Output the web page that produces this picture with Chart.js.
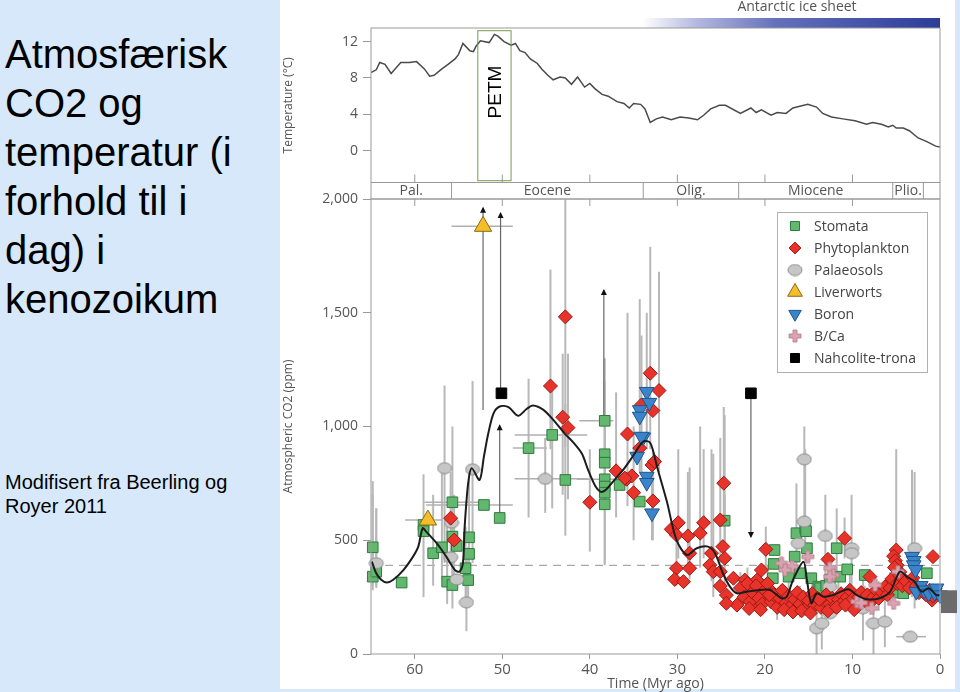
<!DOCTYPE html>
<html>
<head>
<meta charset="utf-8">
<script src="https://cdn.jsdelivr.net/npm/chart.js@4.4.0/dist/chart.umd.min.js"></script>
<style>
  html, body { margin: 0; padding: 0; }
  body { width: 960px; height: 692px; background: #d6e8fa; position: relative; overflow: hidden; font-family: "Liberation Sans", Arial, sans-serif; }
  #panel { position: absolute; left: 280px; top: 0; width: 675px; height: 689px; background: #fff; }
  #title { position: absolute; left: 5px; top: 30px; font-size: 40px; line-height: 49px; color: #000; }
  #source { position: absolute; left: 5px; top: 470px; font-size: 20px; line-height: 24px; color: #000; }
  #temp { position: absolute; left: 280px; top: 0; }
  #co2 { position: absolute; left: 280px; top: 185px; }
</style>
</head>
<body>
<div id="panel"></div>
<div id="title">Atmosfærisk<br>CO2 og<br>temperatur (i<br>forhold til i<br>dag) i<br>kenozoikum</div>
<div id="source">Modifisert fra Beerling og<br>Royer 2011</div>
<canvas id="temp" width="680" height="200"></canvas>
<canvas id="co2" width="680" height="507"></canvas>
<script>
// ---- data (ages in Myr ago) ----
const ageTicks = [60, 50, 40, 30, 20, 10, 0];
const tempTicks = [0, 4, 8, 12];
const co2Ticks = [0, 500, 1000, 1500, 2000];

const epochNames = ['Pal.', 'Eocene', 'Olig.', 'Miocene', 'Plio.', ''];
const epochBounds = [65, 55.8, 33.9, 23.0, 5.4, 1.9, 0];
const iceSheetStart = 34;
const petm = [52.8, 49.0];
const presentCO2 = 390;
const glacialRange = [180, 280];

const tempAge = [65.0, 64.4, 64.0, 63.4, 62.7, 61.6, 60.6, 59.8, 58.9, 58.3, 57.8, 56.9, 56.2, 55.4, 55.0, 54.5, 53.7, 53.3, 53.0, 52.5, 51.5, 50.9, 50.5, 49.8, 49.0, 48.5, 48.0, 47.4, 46.8, 46.0, 45.5, 44.8, 44.2, 43.4, 42.8, 42.1, 41.4, 40.6, 40.0, 39.4, 38.6, 37.9, 36.9, 36.1, 35.5, 35.0, 34.2, 33.7, 33.1, 32.4, 31.7, 30.7, 29.7, 28.7, 27.7, 27.0, 26.2, 25.2, 24.5, 22.8, 21.6, 21.0, 20.4, 19.3, 18.6, 17.6, 16.8, 15.1, 14.1, 13.4, 12.4, 11.1, 9.7, 8.4, 7.7, 6.7, 5.9, 5.4, 5.0, 4.2, 3.5, 2.5, 1.5, 0.5, 0.0];
const tempValue = [8.6, 8.9, 9.7, 9.5, 8.5, 9.7, 9.7, 9.8, 9.0, 8.2, 8.3, 9.0, 9.5, 10.1, 10.6, 11.8, 11.0, 10.9, 11.5, 12.1, 11.9, 12.8, 12.6, 12.0, 11.6, 11.8, 11.0, 10.8, 10.1, 9.6, 9.0, 8.3, 7.8, 8.1, 8.0, 7.3, 8.1, 7.0, 7.4, 6.8, 6.2, 6.0, 5.4, 5.2, 4.7, 5.2, 5.1, 4.6, 3.1, 3.5, 3.7, 3.4, 3.7, 3.6, 3.4, 3.9, 4.6, 5.0, 5.0, 4.1, 4.7, 4.2, 4.5, 3.9, 4.2, 4.1, 4.7, 5.1, 4.8, 4.1, 3.7, 3.5, 3.3, 2.9, 3.1, 2.9, 2.6, 2.8, 2.5, 2.5, 2.2, 1.4, 1.0, 0.5, 0.4];

const trendAge = [64.9, 64.4, 63.8, 63.2, 62.5, 61.3, 60.2, 59.6, 59.1, 58.7, 57.5, 56.4, 55.4, 54.9, 54.5, 54.3, 53.9, 53.5, 52.6, 52.1, 51.6, 51.0, 50.3, 49.3, 48.2, 47.2, 46.5, 45.3, 44.2, 42.9, 41.9, 40.9, 40.2, 39.4, 38.8, 38.3, 37.3, 36.2, 35.1, 33.9, 33.1, 32.3, 31.2, 30.1, 28.9, 27.8, 26.5, 25.7, 24.8, 24.0, 23.2, 22.1, 20.6, 19.4, 18.1, 17.5, 16.8, 15.6, 15.2, 14.7, 14.1, 13.3, 12.2, 10.5, 9.5, 8.4, 6.9, 5.7, 4.6, 3.8, 2.9, 2.1, 1.3, 0.4, 0.0];
const trendCO2 = [406, 355, 325, 314, 325, 369, 428, 472, 553, 538, 487, 428, 369, 362, 399, 560, 751, 817, 765, 868, 970, 1058, 1088, 1085, 1047, 1078, 1092, 1073, 1030, 970, 930, 880, 809, 740, 714, 718, 760, 809, 868, 934, 928, 820, 670, 501, 435, 465, 472, 443, 355, 296, 267, 274, 281, 281, 245, 252, 325, 406, 325, 223, 267, 252, 259, 285, 259, 241, 245, 274, 362, 340, 318, 274, 289, 259, 259];

// rows: [age, CO2, errLow, errHigh, ageOld, ageYoung]
const stomata = [
  [64.8, 469, 300, 760], [64.8, 340, 280, 700], [64.4, 362, 300, 640], [61.5, 314],
  [59.0, 567, 250, 790], [59.0, 540], [57.9, 443, 300, 700], [56.9, 469, 330, 820],
  [55.7, 667, 350, 1000, 58.9, 52.6], [55.7, 516], [55.2, 475], [56.3, 318, 220, 600],
  [55.7, 303, 200, 560], [53.8, 513, 350, 800], [53.8, 440], [54.2, 377, 250, 560],
  [53.9, 325, 230, 470], [52.1, 655, null, null, 58.7, 48.8], [50.3, 598],
  [47.0, 905, 600, 1210, 48.8, 44.9], [44.3, 963, 640, 1200, 48.6, 40.3], [42.8, 765, 520, 1100],
  [38.3, 1025, 700, 1300, 41.2, 37.3], [38.3, 878, 400, 1200], [38.3, 841], [38.3, 768, null, null, 41.5, 35.5],
  [38.3, 736], [38.3, 709], [38.3, 658, 390, 1000], [36.6, 743], [34.3, 670],
  [24.6, 586, 450, 1050], [18.9, 457], [19.0, 396], [19.1, 333], [17.3, 340], [16.4, 531, 380, 750],
  [15.4, 553, 400, 900], [15.2, 465], [16.6, 428], [16.0, 355], [15.3, 540], [14.7, 333],
  [13.9, 296], [13.7, 289], [13.0, 300], [12.6, 325], [11.8, 465, 330, 640], [11.4, 340],
  [10.6, 372], [8.6, 347], [5.3, 270], [4.2, 267], [1.5, 355]
];
const phytoplankton = [
  [55.9, 597, 420, 800], [55.5, 501, 350, 700], [44.5, 1178, 900, 1690], [42.8, 1482, 910, 2100],
  [43.1, 1041, 700, 1320], [42.5, 995, 680, 1320], [40.0, 667, 450, 900], [37.0, 805, 600, 1150],
  [35.7, 967, 650, 1500], [35.8, 768], [35.2, 783], [35.0, 709, 500, 1000], [33.1, 1234, 900, 1790],
  [32.1, 1158, 800, 1680], [32.8, 1070], [34.1, 1095, 800, 1400], [34.3, 905], [32.9, 831],
  [32.6, 846], [32.8, 673, 500, 900], [36.0, 773],
  [29.9, 577, 420, 900], [30.7, 548], [30.1, 523], [28.8, 519, 400, 800], [27.4, 531, 380, 1000],
  [27.0, 577, 420, 900], [25.1, 589, 400, 950], [28.6, 443, 330, 820], [26.1, 443, 320, 900], [24.8, 472], [24.6, 421, 300, 700],
  [30.1, 377, 300, 520], [28.6, 377], [30.3, 328], [29.3, 318], [26.3, 391], [25.9, 362, 250, 880],
  [25.1, 362], [25.1, 299], [23.6, 333], [24.4, 259], [23.2, 215], [24.4, 223], [22.3, 325],
  [22.1, 252], [20.9, 325], [20.4, 369], [20.6, 281], [20.8, 208], [19.8, 245], [19.4, 281],
  [19.9, 460, 380, 560], [18.7, 237], [17.9, 223], [24.7, 751, 580, 1086], [10.9, 509, 420, 600],
  [12.8, 416], [8.0, 340], [5.0, 457, 300, 900], [5.3, 430], [5.1, 410], [4.9, 390], [4.6, 360],
  [0.8, 428], [0.9, 237],
  [22.8, 290, 230, 360], [22.4, 250], [22.0, 310, 240, 380], [21.7, 230], [21.4, 270, 200, 340],
  [21.0, 300], [20.7, 245], [20.3, 220, 170, 290], [20.0, 280], [19.7, 310, 250, 390], [19.3, 230],
  [19.0, 260], [18.6, 205, 150, 270], [18.3, 245], [18.0, 280], [17.6, 225], [17.3, 255, 190, 330],
  [17.0, 210], [16.6, 240], [16.3, 270], [16.0, 220, 160, 300], [15.6, 250], [15.3, 200], [15.0, 235],
  [14.6, 265, 200, 340], [14.3, 215], [14.0, 245], [13.6, 205], [13.3, 235, 180, 300], [13.0, 260],
  [12.6, 220], [12.3, 245], [12.0, 210], [11.6, 240, 180, 320], [11.3, 265], [11.0, 230], [10.6, 250],
  [10.3, 280, 220, 350], [10.0, 240], [9.6, 215], [9.3, 250], [9.0, 270], [8.6, 235, 180, 300],
  [8.3, 260], [8.0, 225], [7.6, 250], [7.3, 280], [7.0, 245, 190, 320], [6.6, 270], [6.3, 295],
  [6.0, 260], [5.7, 290, 230, 360], [5.5, 330], [5.2, 380], [4.9, 310], [4.6, 345], [4.3, 300],
  [3.9, 320], [3.5, 290], [3.1, 335], [2.7, 300], [2.4, 270], [2.0, 290], [1.6, 260], [1.2, 280],
  [0.8, 255], [0.4, 270],
  [21.8, 200], [20.5, 195], [19.5, 260], [17.8, 195], [16.8, 185], [15.8, 190], [14.8, 180],
  [13.8, 240], [12.8, 190], [11.8, 205], [10.8, 215], [9.8, 195]
];
const palaeosols = [
  [64.4, 399, 290, 640], [56.6, 817, 400, 1180], [55.8, 577], [55.9, 425], [55.2, 328],
  [54.1, 227, 100, 420], [53.4, 812, 400, 1200], [45.1, 770, 620, 950, 48.6, 40.2],
  [15.5, 856, 600, 1000], [15.5, 582], [16.2, 487], [13.1, 519, 300, 700], [10.1, 465, 280, 700],
  [10.1, 443], [12.6, 296], [14.1, 113, 0, 250], [13.5, 135, 20, 300], [12.6, 179], [8.8, 201, 60, 350],
  [7.6, 135, 0, 300], [6.3, 142, 30, 320], [3.4, 76, null, null, 5.0, 1.6], [2.9, 465, 200, 800]
];
const liverworts = [[58.5, 589, null, null, 61.1, 56.8], [52.2, 1880, null, null, 55.8, 48.8]];
const boron = [
  [33.5, 1153, 900, 1500], [33.2, 1105], [34.3, 1073, 800, 1560], [34.3, 1044], [33.9, 953],
  [34.6, 868], [33.5, 780], [33.5, 753], [32.9, 619, 500, 800], [34.1, 956],
  [3.2, 428, 250, 810], [3.0, 410], [3.0, 391], [2.8, 370], [2.7, 274], [2.2, 300], [1.8, 280],
  [1.3, 267], [0.6, 270], [0.4, 289], [0.0, 259]
];
const bca = [
  [18.1, 399], [16.9, 384], [17.7, 369], [15.1, 428], [12.6, 377], [12.2, 347], [12.6, 340],
  [9.5, 230], [9.0, 225], [7.8, 201], [7.4, 303], [5.3, 223], [4.8, 362]
];
const nahcolite = [[50.1, 1146], [21.6, 1146]];
// limits drawn as arrows: [age, from CO2, to CO2]
const limits = [[52.2, 1073, 1961], [50.2, 1146, 1939], [50.3, 598, 1005], [38.4, 1025, 1600], [21.6, 1146, 514]];

// ---- styles ----
const tickFont = { family: 'Open Sans', size: 14 };
const textGray = '#555';
const frameGray = '#9a9a9a';

function ellipseMarker(w, h, fill, stroke) {
  const c = document.createElement('canvas');
  c.width = w + 2; c.height = h + 2;
  const g = c.getContext('2d');
  g.beginPath();
  g.ellipse(c.width / 2, c.height / 2, w / 2, h / 2, 0, 0, Math.PI * 2);
  g.fillStyle = fill; g.fill();
  g.strokeStyle = stroke; g.lineWidth = 1; g.stroke();
  return c;
}
function plusMarker(s, t, fill, stroke) {
  const c = document.createElement('canvas');
  c.width = s + 2; c.height = s + 2;
  const g = c.getContext('2d');
  const o = 1, a = (s - t) / 2, b = a + t;
  g.beginPath();
  g.moveTo(o + a, o); g.lineTo(o + b, o); g.lineTo(o + b, o + a); g.lineTo(o + s, o + a);
  g.lineTo(o + s, o + b); g.lineTo(o + b, o + b); g.lineTo(o + b, o + s); g.lineTo(o + a, o + s);
  g.lineTo(o + a, o + b); g.lineTo(o, o + b); g.lineTo(o, o + a); g.lineTo(o + a, o + a);
  g.closePath();
  g.fillStyle = fill; g.fill();
  g.strokeStyle = stroke; g.lineWidth = 0.8; g.stroke();
  return c;
}

const series = [
  { label: 'Stomata', rows: stomata, pointStyle: 'rect', radius: 7.5, rotation: 0, bg: '#62b86f', border: '#2f7a3d', order: 7 },
  { label: 'Phytoplankton', rows: phytoplankton, pointStyle: 'rectRot', radius: 7, rotation: 0, bg: '#e8332b', border: '#9c1a14', order: 4 },
  { label: 'Palaeosols', rows: palaeosols, pointStyle: ellipseMarker(14, 11, '#c6c6c6', '#8a8a8a'), radius: 6, rotation: 0, bg: '#c6c6c6', border: '#8a8a8a', order: 6 },
  { label: 'Liverworts', rows: liverworts, pointStyle: 'triangle', radius: 10, rotation: 0, bg: '#f4bd2c', border: '#8c6a10', order: 5 },
  { label: 'Boron', rows: boron, pointStyle: 'triangle', radius: 8.5, rotation: 180, bg: '#3b84c9', border: '#1d5690', order: 2 },
  { label: 'B/Ca', rows: bca, pointStyle: plusMarker(12, 4, '#dba3b0', '#b0788a'), radius: 6, rotation: 0, bg: '#dba3b0', border: '#b0788a', order: 3 },
  { label: 'Nahcolite-trona', rows: nahcolite, pointStyle: 'rect', radius: 7.5, rotation: 0, bg: '#000', border: '#000', order: 1 }
];

// ---- temperature panel ----
const tempDecor = {
  id: 'tempDecor',
  afterDraw(chart) {
    const { ctx, chartArea: a, scales: { x, y } } = chart;
    ctx.save();
    // ice sheet bar
    const x0 = x.getPixelForValue(iceSheetStart), x1 = a.right;
    const grad = ctx.createLinearGradient(x0, 0, x1, 0);
    grad.addColorStop(0, 'rgba(255,255,255,1)');
    grad.addColorStop(0.18, '#b4b9e0');
    grad.addColorStop(0.45, '#6470bb');
    grad.addColorStop(1, '#2c3d98');
    ctx.fillStyle = grad;
    ctx.fillRect(x0, a.top - 10, x1 - x0, 10);
    ctx.fillStyle = textGray;
    ctx.font = '14px "Open Sans"';
    ctx.textAlign = 'center';
    ctx.textBaseline = 'middle';
    ctx.fillText('Antarctic ice sheet', 517, 7);
    // frame
    ctx.strokeStyle = frameGray;
    ctx.lineWidth = 1;
    ctx.strokeRect(a.left, a.top, a.right - a.left, a.bottom - a.top);
    // epoch band
    const bandBottom = a.bottom + 16.5;
    ctx.beginPath();
    ctx.moveTo(a.left, bandBottom); ctx.lineTo(a.right, bandBottom);
    ctx.moveTo(a.left, a.bottom); ctx.lineTo(a.left, bandBottom);
    ctx.moveTo(a.right, a.bottom); ctx.lineTo(a.right, bandBottom);
    epochBounds.slice(1, -1).forEach(b => {
      const px = x.getPixelForValue(b);
      ctx.moveTo(px, a.bottom); ctx.lineTo(px, bandBottom);
    });
    ageTicks.slice(0, -1).forEach(t => {
      const px = x.getPixelForValue(t);
      ctx.moveTo(px, a.bottom); ctx.lineTo(px, a.bottom - 8);
    });
    ctx.stroke();
    ctx.fillStyle = textGray;
    ctx.font = '14px "Open Sans"';
    epochNames.forEach((n, i) => {
      if (!n) return;
      const px = (x.getPixelForValue(epochBounds[i]) + x.getPixelForValue(epochBounds[i + 1])) / 2;
      ctx.fillText(n, px, a.bottom + 8.5);
    });
    // PETM box
    const pl = x.getPixelForValue(petm[0]), pr = x.getPixelForValue(petm[1]);
    ctx.strokeStyle = '#7c9b4c';
    ctx.strokeRect(pl, y.getPixelForValue(13.2), pr - pl, y.getPixelForValue(-3.3) - y.getPixelForValue(13.2));
    ctx.translate((pl + pr) / 2 + 1, 92);
    ctx.rotate(-Math.PI / 2);
    ctx.fillStyle = '#000';
    ctx.font = '19px "Liberation Sans", Arial';
    ctx.fillText('PETM', 0, 0);
    ctx.restore();
  }
};

new Chart(document.getElementById('temp'), {
  type: 'line',
  data: {
    datasets: [{
      data: tempAge.map((a, i) => ({ x: a, y: tempValue[i] })),
      borderColor: '#4a4a4a', borderWidth: 1.5, pointRadius: 0, tension: 0
    }]
  },
  options: {
    responsive: false, animation: false,
    layout: { padding: { top: 28, bottom: 17.5, right: 20, left: 0 } },
    plugins: { legend: { display: false }, tooltip: { enabled: false } },
    scales: {
      x: { type: 'linear', reverse: true, min: 0, max: 65, display: false },
      y: {
        min: -3.5, max: 13.5,
        afterBuildTicks: s => { s.ticks = tempTicks.map(v => ({ value: v })); },
        afterFit: s => { s.width = 91; },
        grid: { drawOnChartArea: false, tickLength: 8, color: frameGray },
        border: { display: false },
        ticks: { color: textGray, font: tickFont, padding: 5 },
        title: { display: true, text: 'Temperature (°C)', color: textGray, font: { family: 'Open Sans', size: 12 }, padding: { top: 1, bottom: 0 } }
      }
    }
  },
  plugins: [tempDecor]
});

// ---- CO2 panel ----
const co2Decor = {
  id: 'co2Decor',
  beforeDatasetsDraw(chart) {
    const { ctx, chartArea: a, scales: { x, y } } = chart;
    ctx.save();
    ctx.beginPath();
    ctx.rect(a.left, a.top, a.right - a.left, a.bottom - a.top + 1);
    ctx.clip();
    // present-day dashed level
    ctx.strokeStyle = '#a8a8a8';
    ctx.lineWidth = 1.2;
    ctx.setLineDash([8, 6]);
    ctx.beginPath();
    ctx.moveTo(a.left, y.getPixelForValue(presentCO2));
    ctx.lineTo(a.right, y.getPixelForValue(presentCO2));
    ctx.stroke();
    ctx.setLineDash([]);
    // error bars
    series.forEach(s => s.rows.forEach(r => {
      const px = x.getPixelForValue(r[0]), py = y.getPixelForValue(r[1]);
      if (r[2] != null) {
        ctx.strokeStyle = '#b8b8b8'; ctx.lineWidth = 2;
        ctx.beginPath();
        ctx.moveTo(px, y.getPixelForValue(r[2])); ctx.lineTo(px, y.getPixelForValue(r[3]));
        ctx.stroke();
      }
      if (r[4] != null) {
        ctx.strokeStyle = '#b0b0b0'; ctx.lineWidth = 1.5;
        ctx.beginPath();
        ctx.moveTo(x.getPixelForValue(r[4]), py); ctx.lineTo(x.getPixelForValue(r[5]), py);
        ctx.stroke();
      }
    }));
    // limit arrows
    limits.forEach(l => {
      const px = x.getPixelForValue(l[0]), y0 = y.getPixelForValue(l[1]), y1 = y.getPixelForValue(l[2]);
      const dir = y1 < y0 ? -1 : 1;
      ctx.strokeStyle = '#666'; ctx.lineWidth = 1.2;
      ctx.beginPath(); ctx.moveTo(px, y0); ctx.lineTo(px, y1); ctx.stroke();
      ctx.fillStyle = '#111';
      ctx.beginPath();
      ctx.moveTo(px, y1 + dir * 1); ctx.lineTo(px - 3, y1 - dir * 5); ctx.lineTo(px + 3, y1 - dir * 5);
      ctx.closePath(); ctx.fill();
    });
    ctx.restore();
  },
  afterDraw(chart) {
    const { ctx, chartArea: a, scales: { x, y } } = chart;
    ctx.save();
    ctx.strokeStyle = frameGray;
    ctx.lineWidth = 1;
    ctx.strokeRect(a.left, a.top, a.right - a.left, a.bottom - a.top);
    ctx.beginPath();
    ageTicks.slice(0, -1).forEach(t => {
      const px = x.getPixelForValue(t);
      ctx.moveTo(px, a.top); ctx.lineTo(px, a.top + 7);
    });
    ctx.stroke();
    // glacial-interglacial range
    ctx.fillStyle = '#6b6b6b';
    const gy0 = y.getPixelForValue(glacialRange[1]), gy1 = y.getPixelForValue(glacialRange[0]);
    ctx.fillRect(a.right + 1, gy0, 16, gy1 - gy0);
    // legend
    const lx = 497, ly = 27;
    ctx.fillStyle = '#fff';
    ctx.fillRect(lx, ly, 150, 160);
    ctx.strokeStyle = '#b0b0b0';
    ctx.strokeRect(lx + 0.5, ly + 0.5, 150, 160);
    ctx.font = '14px "Open Sans"';
    ctx.textAlign = 'left';
    ctx.textBaseline = 'middle';
    chart.data.datasets.forEach(ds => {
      if (ds.legendIndex == null) return;
      const cy = ly + 14 + ds.legendIndex * 22;
      ctx.fillStyle = ds.backgroundColor;
      ctx.strokeStyle = ds.borderColor;
      ctx.lineWidth = 1;
      Chart.helpers.drawPoint(ctx, {
        pointStyle: ds.pointStyle, rotation: ds.pointRotation,
        radius: ds.legendRadius, borderWidth: 1
      }, lx + 18, cy);
      ctx.fillStyle = '#444';
      ctx.fillText(ds.label, lx + 37, cy + 1);
    });
    ctx.restore();
  }
};

const scatterSets = series.map((s, i) => ({
  type: 'scatter',
  label: s.label,
  legendIndex: i,
  legendRadius: s.radius * 0.85,
  data: s.rows.map(r => ({ x: r[0], y: r[1] })),
  pointStyle: s.pointStyle,
  pointRotation: s.rotation,
  pointRadius: s.radius,
  backgroundColor: s.bg,
  borderColor: s.border,
  pointBorderWidth: 1,
  clip: 12,
  order: s.order
}));

new Chart(document.getElementById('co2'), {
  type: 'scatter',
  data: {
    datasets: [{
      type: 'line',
      data: trendAge.map((a, i) => ({ x: a, y: trendCO2[i] })),
      borderColor: '#1c1c1c', borderWidth: 2, pointRadius: 0, tension: 0.3, order: 0
    }].concat(scatterSets)
  },
  options: {
    responsive: false, animation: false,
    layout: { padding: { top: 14, bottom: 0, right: 20, left: 0 } },
    plugins: { legend: { display: false }, tooltip: { enabled: false } },
    scales: {
      x: {
        type: 'linear', reverse: true, min: 0, max: 65,
        afterBuildTicks: s => { s.ticks = ageTicks.map(v => ({ value: v })); },
        afterFit: s => { s.height = 38; },
        grid: { drawOnChartArea: false, tickLength: 5, color: frameGray },
        border: { display: false },
        ticks: { color: textGray, font: { family: 'Open Sans', size: 15 }, padding: 2, maxRotation: 0 },
        title: { display: true, text: 'Time (Myr ago)', color: textGray, font: { family: 'Open Sans', size: 14 }, padding: { top: 0, bottom: 0 } }
      },
      y: {
        min: 0, max: 2000,
        afterBuildTicks: s => { s.ticks = co2Ticks.map(v => ({ value: v })); },
        afterFit: s => { s.width = 91; },
        grid: { drawOnChartArea: false, tickLength: 8, color: frameGray },
        border: { display: false },
        ticks: { color: textGray, font: tickFont, padding: 5, callback: v => v.toLocaleString('en-US') },
        title: { display: true, text: 'Atmospheric CO2 (ppm)', color: textGray, font: { family: 'Open Sans', size: 12 }, padding: { top: 1, bottom: 0 } }
      }
    }
  },
  plugins: [co2Decor]
});
</script>
</body>
</html>
